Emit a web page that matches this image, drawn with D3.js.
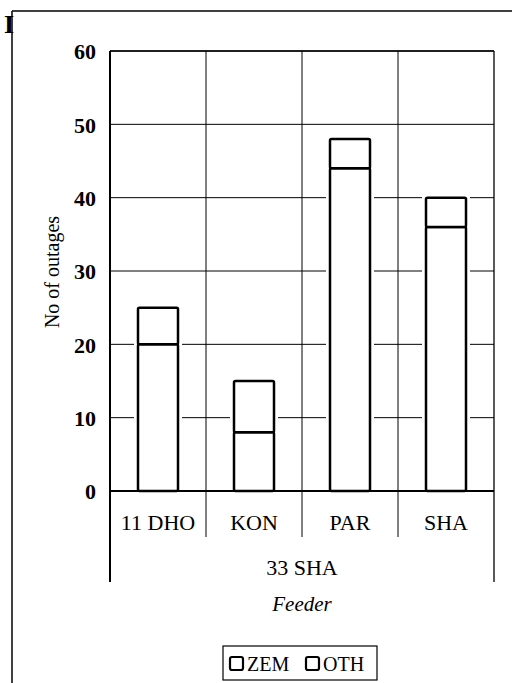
<!DOCTYPE html>
<html><head><meta charset="utf-8">
<script src="https://cdn.jsdelivr.net/npm/d3@7"></script>
<style>html,body{margin:0;padding:0;background:#fff;}svg{display:block;} text{font-family:"Liberation Serif",serif;}</style>
</head><body>
<svg id="c" width="512" height="683"></svg>
<script>
const categories = ["11 DHO", "KON", "PAR", "SHA"];
const groupLabel = "33 SHA";
const zem = [20, 8, 44, 36];
const oth = [5, 7, 4, 4];
const yTicks = [0, 10, 20, 30, 40, 50, 60];
const seriesNames = ["ZEM", "OTH"];

const svg = d3.select("#c");
const L = 110, R = 494, T = 51, B = 491;
const font = "Liberation Serif";

const x = d3.scaleBand().domain(categories).range([L, R]).paddingInner(0).paddingOuter(0);
const y = d3.scaleLinear().domain([0, 60]).range([B, T]);
const barW = 40;

// outer frame
svg.append("line").attr("x1", 12).attr("x2", 512).attr("y1", 11).attr("y2", 11).attr("stroke", "#000").attr("stroke-width", 1.5);
svg.append("line").attr("x1", 12).attr("x2", 12).attr("y1", 11).attr("y2", 683).attr("stroke", "#000").attr("stroke-width", 1.5);
svg.append("text").attr("x", 4).attr("y", 33).attr("font-family", font).attr("font-weight", "bold").attr("font-size", 26).text("I");

// horizontal gridlines
svg.append("g").selectAll("line").data(yTicks.filter(d => d > 0)).join("line")
  .attr("x1", L).attr("x2", R).attr("y1", d => y(d)).attr("y2", d => y(d))
  .attr("stroke", "#000").attr("stroke-width", 1);
// vertical category dividers
const bounds = categories.slice(1).map(c => x(c));
svg.append("g").selectAll("line").data(bounds).join("line")
  .attr("x1", d => d).attr("x2", d => d).attr("y1", T).attr("y2", B + 46)
  .attr("stroke", "#000").attr("stroke-width", 1);
// right border
svg.append("line").attr("x1", R).attr("x2", R).attr("y1", T).attr("y2", B + 91).attr("stroke", "#000").attr("stroke-width", 1.3);

// bars
const data = categories.map((c, i) => ({c, zem: zem[i], oth: oth[i]}));
const g = svg.append("g");
g.selectAll("rect.bg").data(data).join("rect")
  .attr("x", d => x(d.c) + x.bandwidth() / 2 - barW / 2 - 4)
  .attr("width", barW + 8)
  .attr("y", d => y(d.zem + d.oth) - 2)
  .attr("height", d => y(0) - y(d.zem + d.oth) + 1)
  .attr("fill", "#fff");
g.selectAll("rect.zem").data(data).join("rect")
  .attr("x", d => x(d.c) + x.bandwidth() / 2 - barW / 2)
  .attr("width", barW)
  .attr("y", d => y(d.zem))
  .attr("height", d => y(0) - y(d.zem))
  .attr("fill", "#fff").attr("stroke", "#000").attr("stroke-width", 2.5).attr("rx", 1.5);
g.selectAll("rect.oth").data(data).join("rect")
  .attr("x", d => x(d.c) + x.bandwidth() / 2 - barW / 2)
  .attr("width", barW)
  .attr("y", d => y(d.zem + d.oth))
  .attr("height", d => y(d.zem) - y(d.zem + d.oth))
  .attr("fill", "#fff").attr("stroke", "#000").attr("stroke-width", 2.5).attr("rx", 1.5);

// top border
svg.append("line").attr("x1", L).attr("x2", R).attr("y1", T).attr("y2", T).attr("stroke", "#000").attr("stroke-width", 1.3);
// axes
svg.append("line").attr("x1", L).attr("x2", L).attr("y1", T).attr("y2", B + 91).attr("stroke", "#000").attr("stroke-width", 2);
svg.append("line").attr("x1", L).attr("x2", R).attr("y1", B).attr("y2", B).attr("stroke", "#000").attr("stroke-width", 2);

// y tick labels
const yAxis = d3.axisLeft(y).tickValues(yTicks).tickSize(0).tickPadding(14);
const ya = svg.append("g").attr("transform", `translate(${L},0)`).call(yAxis).attr("font-family", null).attr("font-size", null);
ya.select(".domain").remove();
ya.selectAll("text").attr("font-family", font).attr("font-size", 22).attr("font-weight", "bold").attr("fill", "#000").attr("dy", "0.35em");

// category labels
const xAxis = d3.axisBottom(x).tickSize(0).tickPadding(0);
const xa = svg.append("g").attr("transform", `translate(0,${B + 31})`).call(xAxis).attr("font-family", null).attr("font-size", null);
xa.select(".domain").remove();
xa.selectAll("text").attr("font-family", font).attr("font-size", 22).attr("fill", "#000").attr("dy", "0.35em");

svg.append("text").attr("x", (L + R) / 2).attr("y", 567).attr("dy", "0.35em").attr("text-anchor", "middle")
  .attr("font-family", font).attr("font-size", 22).text(groupLabel);
svg.append("text").attr("x", (L + R) / 2).attr("y", 604).attr("dy", "0.35em").attr("text-anchor", "middle")
  .attr("font-family", font).attr("font-size", 21).attr("font-style", "italic").text("Feeder");
svg.append("text").attr("transform", "translate(59,272) rotate(-90)").attr("text-anchor", "middle")
  .attr("font-family", font).attr("font-size", 20).text("No of outages");

// legend
svg.append("rect").attr("x", 223).attr("y", 646).attr("width", 154).attr("height", 34)
  .attr("fill", "#fff").attr("stroke", "#000").attr("stroke-width", 1.2);
const legX = [230, 306];
const lg = svg.append("g").selectAll("g").data(seriesNames).join("g")
  .attr("transform", (d, i) => `translate(${legX[i]},657)`);
lg.append("rect").attr("width", 13).attr("height", 13).attr("rx", 2)
  .attr("fill", "#fff").attr("stroke", "#000").attr("stroke-width", 2.2);
lg.append("text").attr("x", 17).attr("y", 7).attr("dy", "0.35em")
  .attr("font-family", font).attr("font-size", 20).text(d => d);
</script>
</body></html>
